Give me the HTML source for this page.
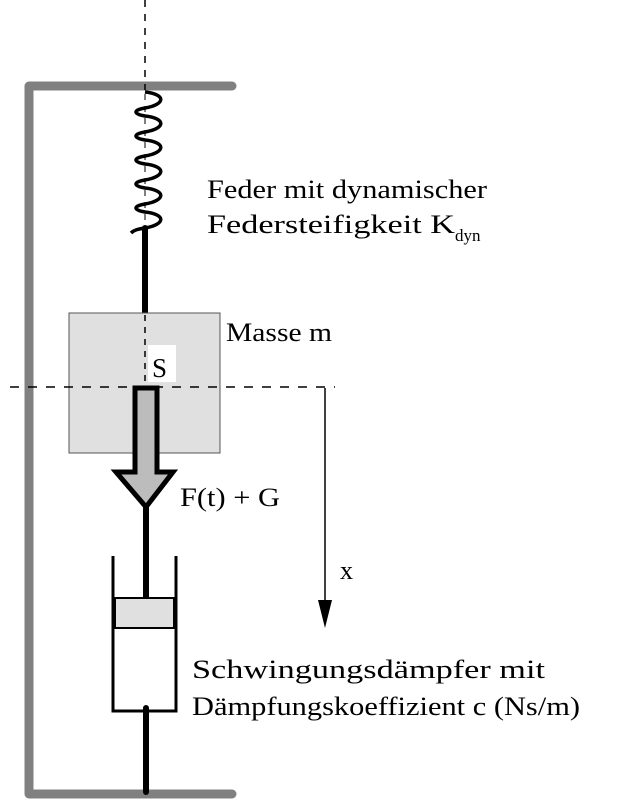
<!DOCTYPE html>
<html><head><meta charset="utf-8"><style>
html,body{margin:0;padding:0;background:#fff;}
svg{display:block;}
.t{font-family:"Liberation Serif","Times New Roman","Nimbus Roman",Times,serif;fill:#000;}
</style></head><body>
<svg width="622" height="804" viewBox="0 0 622 804" xmlns="http://www.w3.org/2000/svg">
<path d="M232,86 L29,86 L29,794 L232,794" fill="none" stroke="#808080" stroke-width="9" stroke-linecap="round" stroke-linejoin="round"/>
<line x1="145" y1="0" x2="145" y2="90" stroke="#000" stroke-width="1.5" stroke-dasharray="7,7"/>
<path d="M145,92 C165,94 167,104 145,108 C133,110 133,114 145,116 C165,118 167,128 145,132 C133,134 133,138 145,140 C165,142 167,152 145,156 C133,158 133,162 145,164 C165,166 167,176 145,180 C133,182 133,186 145,188 C165,190 167,200 145,204 C133,206 133,210 145,212 C165,214 167,224 145,228 C138,229 134,230 131,233" fill="none" stroke="#000" stroke-width="3.5"/>
<line x1="145" y1="94" x2="145" y2="228" stroke="#000" stroke-width="1" stroke-dasharray="6,6"/>
<line x1="145" y1="228" x2="145" y2="318" stroke="#000" stroke-width="6" stroke-linecap="round"/>
<rect x="69" y="313" width="151" height="140" fill="#e0e0e0" stroke="#555" stroke-width="1"/>
<line x1="145" y1="315" x2="145" y2="385" stroke="#000" stroke-width="1.5" stroke-dasharray="6,6"/>
<rect x="148" y="345" width="28" height="37" fill="#fff"/>
<text class="t" x="152" y="377" style="font-size:27px">S</text>
<line x1="10" y1="387" x2="335" y2="387" stroke="#000" stroke-width="1.5" stroke-dasharray="9,9"/>
<path d="M135,388 L157,388 L157,472 L173,472 L146,507 L116,472 L135,472 Z" fill="#bcbcbc" stroke="#000" stroke-width="5" stroke-linejoin="miter"/>
<line x1="146" y1="505" x2="146" y2="600" stroke="#000" stroke-width="6"/>
<path d="M113,556 L113,711 L176,711 L176,556" fill="none" stroke="#000" stroke-width="3"/>
<rect x="115" y="598" width="59" height="30" fill="#e0e0e0" stroke="#000" stroke-width="2"/>
<line x1="146" y1="708" x2="146" y2="792" stroke="#000" stroke-width="6" stroke-linecap="round"/>
<line x1="325" y1="388" x2="325" y2="605" stroke="#000" stroke-width="1.5"/>
<path d="M318,600 L332,600 L325,628 Z" fill="#000"/>
<text class="t" x="340" y="579" style="font-size:26px">x</text>
<text class="t" x="207" y="198" style="font-size:26px" textLength="280" lengthAdjust="spacingAndGlyphs">Feder mit dynamischer</text>
<text class="t" x="207" y="233" style="font-size:26px" textLength="248" lengthAdjust="spacingAndGlyphs">Federsteifigkeit K</text>
<text class="t" x="455" y="241" style="font-size:17px">dyn</text>
<text class="t" x="226" y="341" style="font-size:26px" textLength="106" lengthAdjust="spacingAndGlyphs">Masse m</text>
<text class="t" x="180" y="506" style="font-size:26px" textLength="100" lengthAdjust="spacingAndGlyphs">F(t) + G</text>
<text class="t" x="192" y="678" style="font-size:26px" textLength="353" lengthAdjust="spacingAndGlyphs">Schwingungsdämpfer mit</text>
<text class="t" x="192" y="715" style="font-size:26px" textLength="388" lengthAdjust="spacingAndGlyphs">Dämpfungskoeffizient c (Ns/m)</text>
</svg>
</body></html>
